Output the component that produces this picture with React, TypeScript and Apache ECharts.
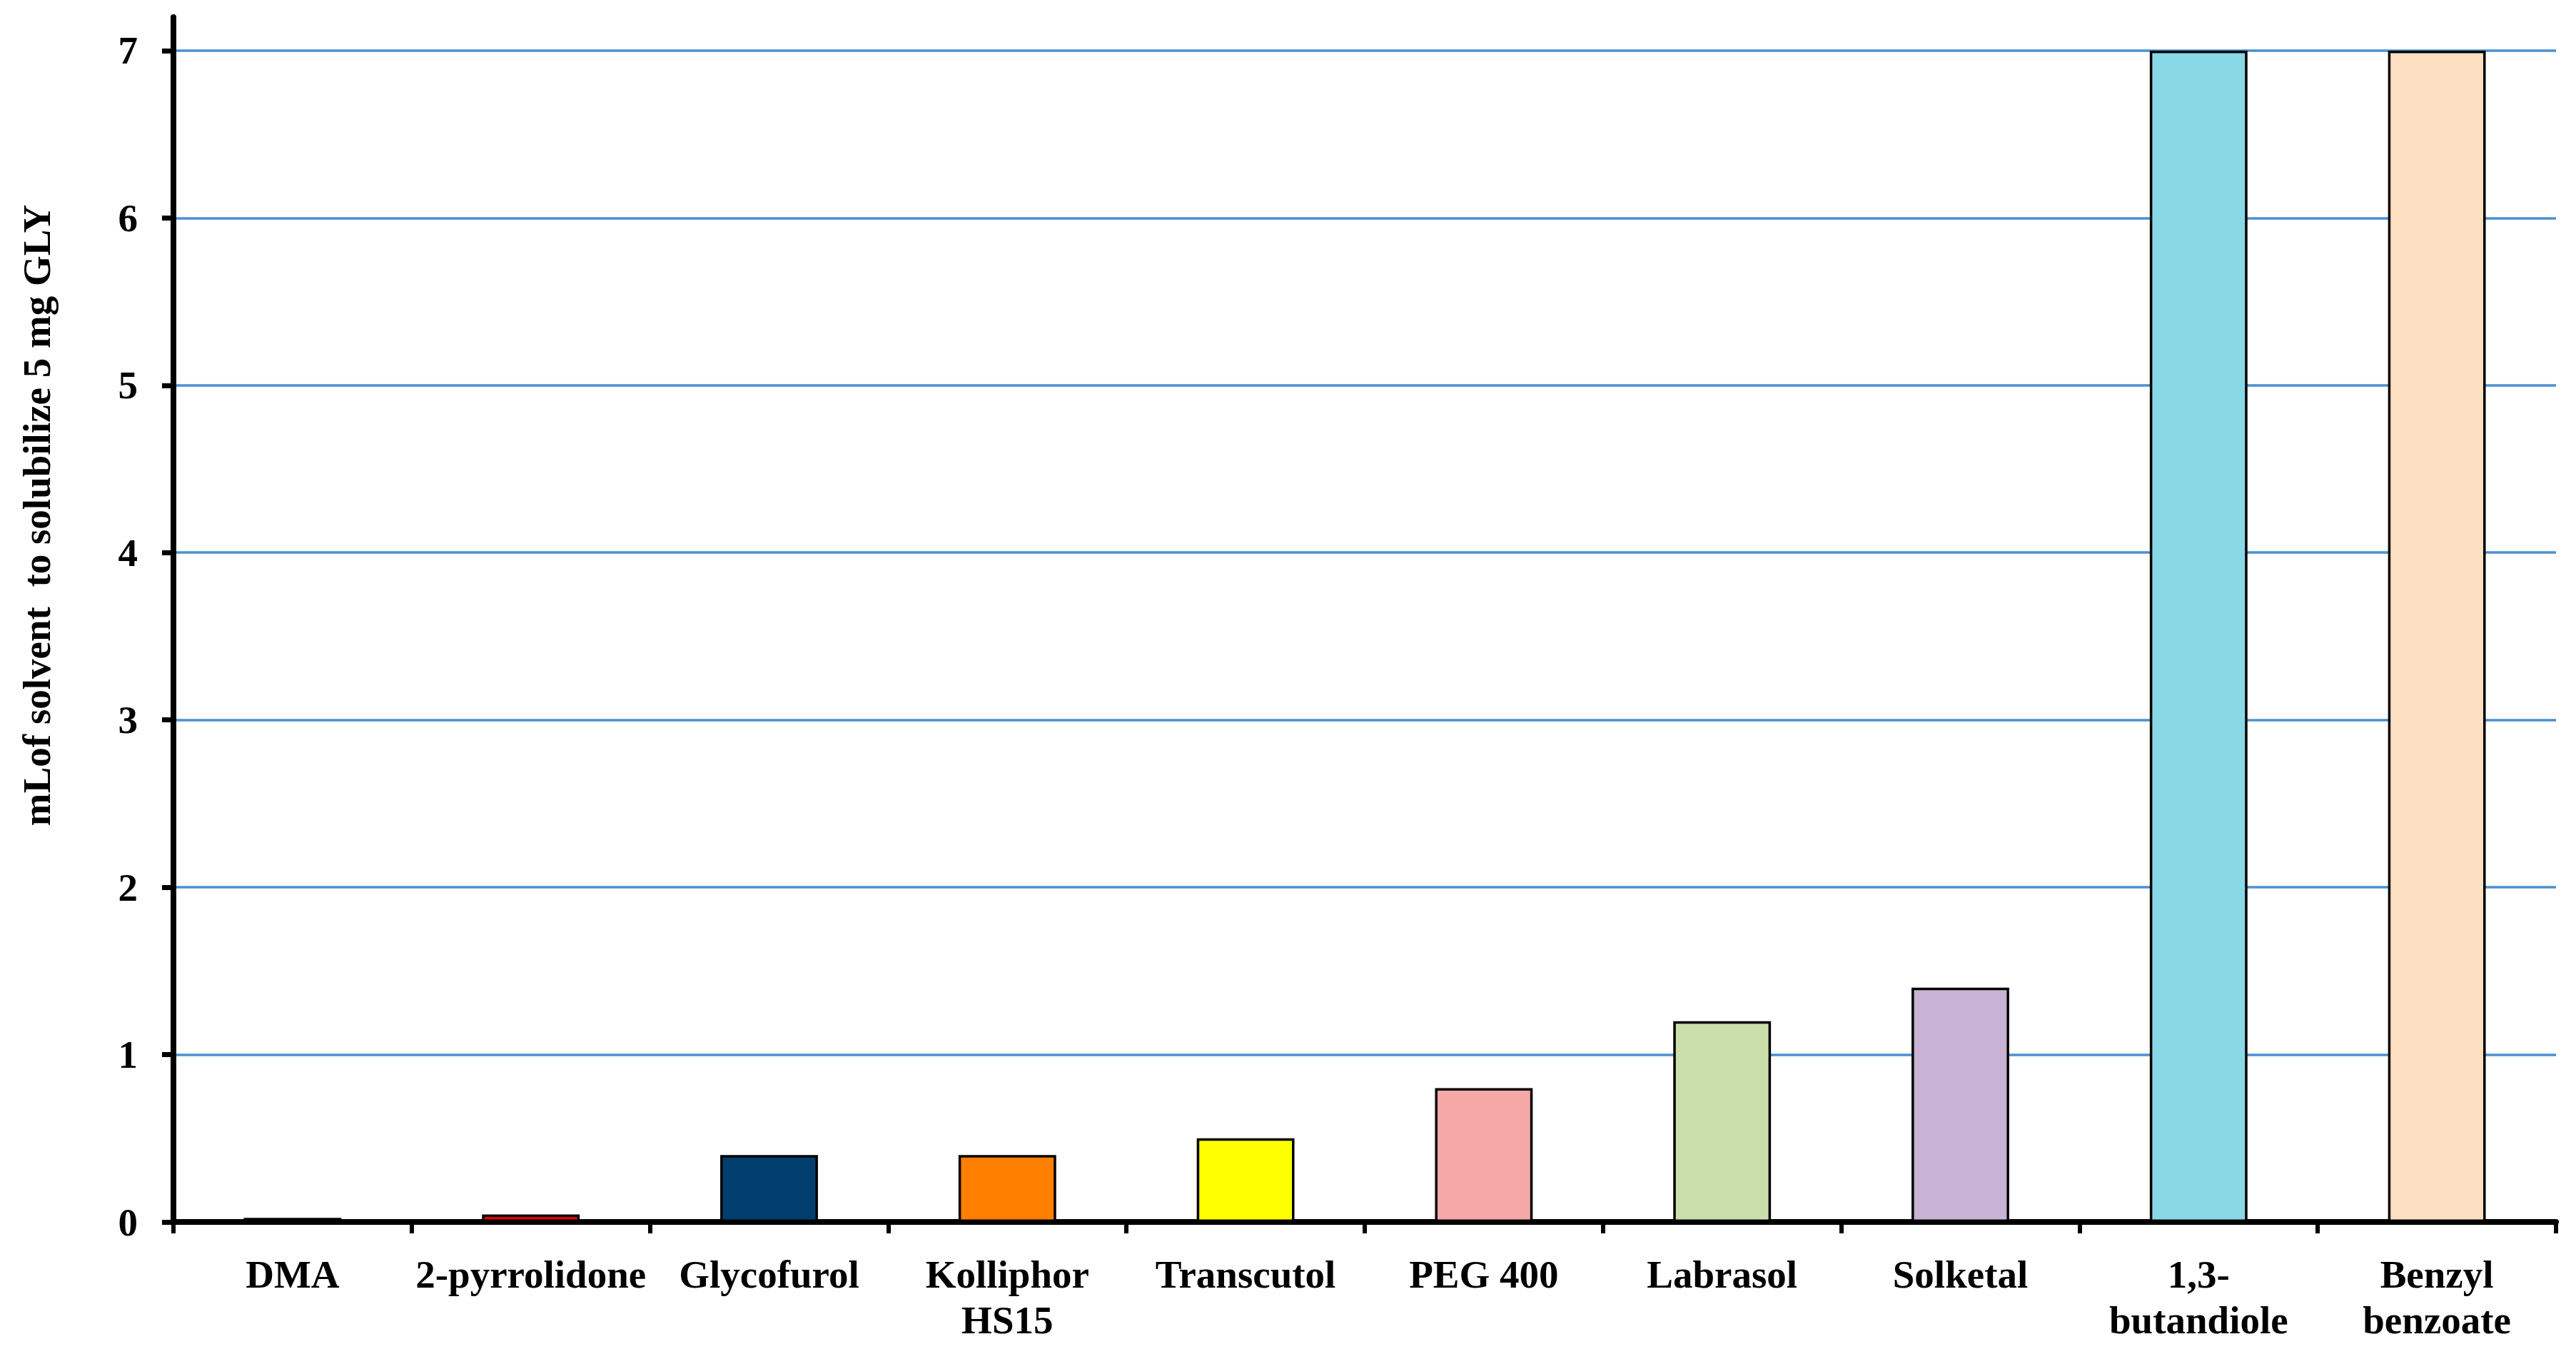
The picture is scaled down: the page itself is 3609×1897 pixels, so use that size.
import { useEffect, useRef } from 'react';
import * as echarts from 'echarts';

const categories = [
  'DMA',
  '2-pyrrolidone',
  'Glycofurol',
  'Kolliphor\nHS15',
  'Transcutol',
  'PEG 400',
  'Labrasol',
  'Solketal',
  '1,3-\nbutandiole',
  'Benzyl\nbenzoate',
];
const values = [0.025, 0.045, 0.4, 0.4, 0.5, 0.8, 1.2, 1.4, 7, 7];
const barColors = [
  '#000000',
  '#E20000',
  '#003F6E',
  '#FF7F00',
  '#FFFF00',
  '#F5A8A6',
  '#CBDFAA',
  '#C8B3D4',
  '#89D8E6',
  '#FDDFC1',
];
const yTicks = [0, 1, 2, 3, 4, 5, 6, 7];
const yAxisTitle = 'mLof solvent  to solubilize 5 mg GLY';

const FONT = '"Liberation Serif", "Times New Roman", serif';
const GRID_BLUE = '#4A90D2';

export default function App() {
  const ref = useRef<HTMLDivElement>(null);

  useEffect(() => {
    if (!ref.current) return;
    const chart = echarts.init(ref.current, null, { renderer: 'svg' });
    chart.setOption({
      animation: false,
      backgroundColor: '#ffffff',
      grid: { left: 243, right: 28, top: 24, bottom: 185, containLabel: false },
      xAxis: {
        type: 'category',
        data: categories,
        axisLine: { show: true, lineStyle: { color: '#000', width: 8 } },
        axisTick: {
          show: true,
          alignWithLabel: false,
          length: 16,
          lineStyle: { color: '#000', width: 6 },
        },
        axisLabel: {
          interval: 0,
          margin: 41,
          fontFamily: FONT,
          fontWeight: 'bold',
          fontSize: 55,
          lineHeight: 64,
          color: '#000',
        },
        splitLine: { show: false },
      },
      yAxis: {
        type: 'value',
        min: 0,
        max: 7.2,
        interval: 1,
        axisLine: { show: true, lineStyle: { color: '#000', width: 8 } },
        axisTick: {
          show: true,
          length: 16,
          customValues: yTicks,
          lineStyle: { color: '#000', width: 7 },
        },
        axisLabel: {
          customValues: yTicks,
          margin: 50,
          fontFamily: FONT,
          fontWeight: 'bold',
          fontSize: 55,
          color: '#000',
        },
        splitLine: {
          show: true,
          lineStyle: {
            color: [
              'rgba(0,0,0,0)',
              GRID_BLUE,
              GRID_BLUE,
              GRID_BLUE,
              GRID_BLUE,
              GRID_BLUE,
              GRID_BLUE,
              GRID_BLUE,
              'rgba(0,0,0,0)',
            ],
            width: 3.5,
          },
        },
      },
      series: [
        {
          type: 'bar',
          barWidth: '41%',
          data: values.map((v, i) => ({ value: v, itemStyle: { color: barColors[i] } })),
          itemStyle: { borderColor: '#000', borderWidth: 3.5 },
        },
      ],
      graphic: [
        {
          type: 'text',
          x: 51,
          y: 722,
          rotation: Math.PI / 2,
          style: {
            text: yAxisTitle,
            fontFamily: FONT,
            fontWeight: 'bold',
            fontSize: 55,
            fill: '#000',
            align: 'center',
            verticalAlign: 'middle',
          },
        },
      ],
    });
    return () => chart.dispose();
  }, []);

  return (
    <div
      ref={ref}
      style={{ position: 'fixed', left: 0, top: 0, width: 3609, height: 1897, background: '#fff' }}
    />
  );
}
